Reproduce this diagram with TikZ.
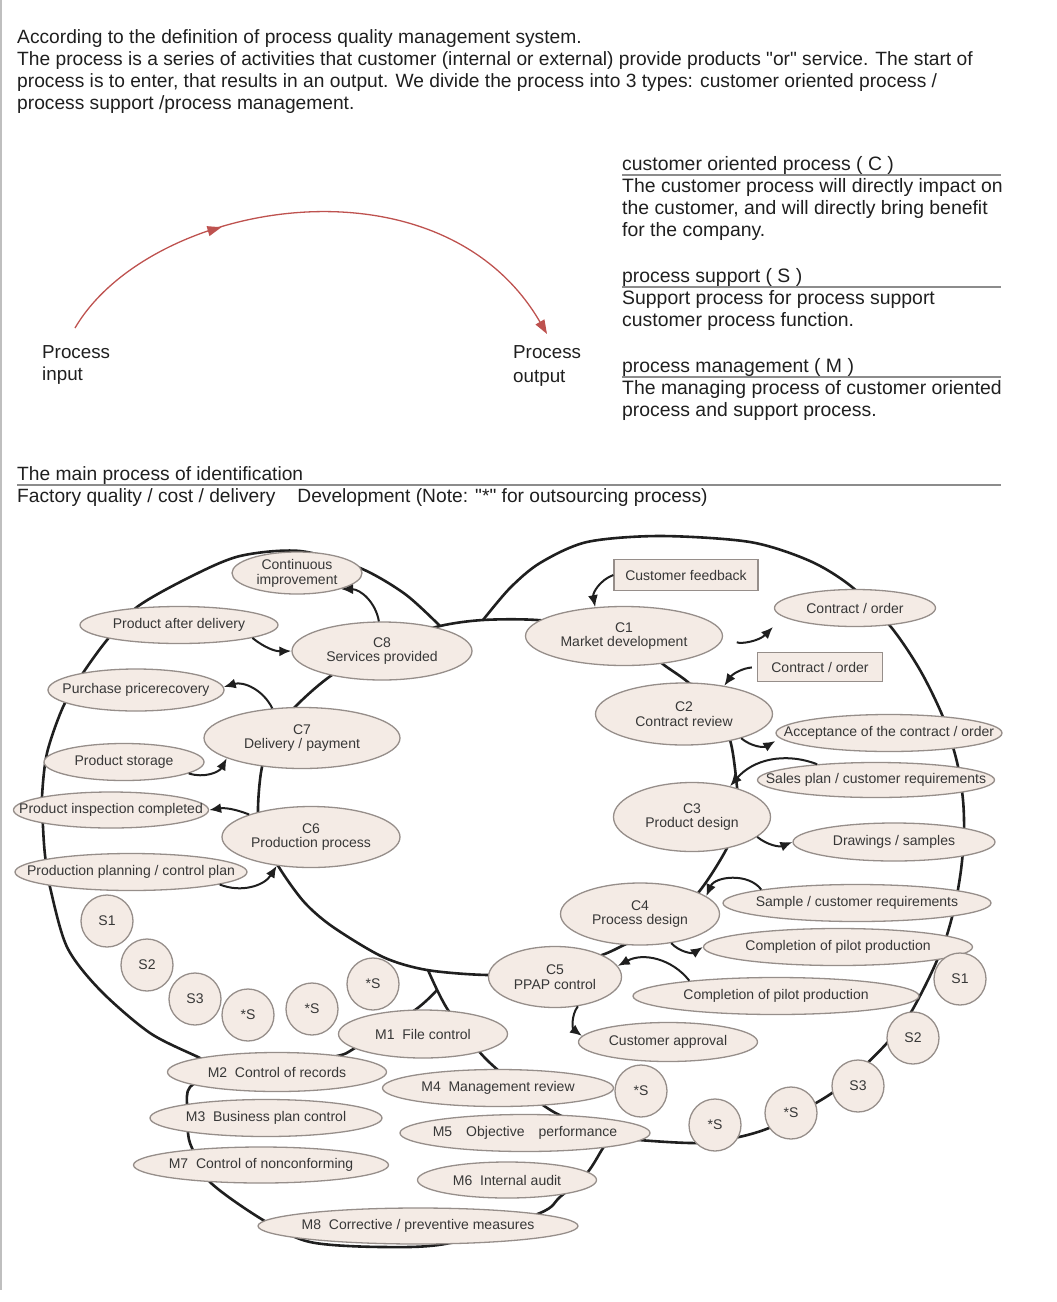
\documentclass[tikz,border=0pt]{standalone}
\usepackage{fontspec}
\setmainfont{Liberation Sans}
\usetikzlibrary{arrows.meta, shapes.geometric, decorations.markings}
\definecolor{shade}{RGB}{244,235,229}
\definecolor{rim}{RGB}{150,142,138}
\definecolor{ink}{RGB}{55,55,55}
\definecolor{arcred}{RGB}{178,52,48}
% zero-width line, so the ellipse keeps its own size
\newcommand{\zw}[1]{\makebox[0pt]{#1}}

\begin{document}
\begin{tikzpicture}[x=1pt, y=-1pt,
    proc/.style={ellipse, draw=rim, fill=shade, line width=1.3pt, inner sep=0pt,
        text=ink, align=center, font=\fontsize{14}{14.5}\selectfont},
    esz/.style 2 args={minimum width=#1pt, minimum height=#2pt},
    srv/.style={circle, draw=rim, fill=shade, line width=1.3pt, minimum size=52pt,
        inner sep=0pt, text=ink, font=\fontsize{14}{14.5}\selectfont},
    inbox/.style={rectangle, draw=rim, fill=shade, line width=1.3pt, inner sep=0pt,
        text=ink, font=\fontsize{14}{14.5}\selectfont},
    loopl/.style={line width=2.6pt, black!88, line cap=round, line join=round},
    flow/.style={line width=2pt, black!88, -{Latex[length=12pt, width=10pt]}, bend right=40},
    rulec/.style={draw=black!45, line width=1.5pt},
    body/.style={inner sep=0pt, anchor=base west, align=left, text=black!88},
    arcline/.style={draw=arcred!85, line width=1.3pt, -{Triangle[length=14pt, width=10pt]},
        postaction={decorate, decoration={markings,
            mark=at position 0.33 with {\arrow{Triangle[length=14pt, width=10pt]}}}}}]
\useasboundingbox (0,0) rectangle (1057,1302);
\draw[black!25, line width=1.5pt] (1,0) -- (1,1290);

% introduction (base of a multi-line node = last line)
\node[body, font=\fontsize{19.2}{21.7}\selectfont] (intro) at (17,109)
    {According to the definition of process quality management system.\\
     The process is a series of activities that customer (internal or external) provide products \textquotedbl or\textquotedbl\ service. The start of\\
     process is to enter, that results in an output. We divide the process into 3 types: customer oriented process /\\
     process support /process management.};

% process input / output
\node[body, font=\fontsize{18.8}{22}\selectfont] (pin) at (42,380) {Process\\input};
\node[body, font=\fontsize{18.8}{24}\selectfont] (pout) at (513,382) {Process\\output};
\coordinate (arcs) at (75,328);
\coordinate (arce) at (547,334);
\draw[arcline] (arcs) .. controls (150,200) and (440,150) .. (arce);

% the three kinds of process
\node[body, font=\fontsize{19.4}{22}\selectfont] (dch) at (622,170) {customer oriented process ( C )};
\draw[rulec] (622,175) -- (1001,175);
\node[body, font=\fontsize{19.4}{22}\selectfont] (dcb) at (622,236)
    {The customer process will directly impact on\\the customer, and will directly bring benefit\\for the company.};
\node[body, font=\fontsize{19.4}{22}\selectfont] (dsh) at (622,282) {process support ( S )};
\draw[rulec] (622,287) -- (1001,287);
\node[body, font=\fontsize{19.4}{22}\selectfont] (dsb) at (622,326)
    {Support process for process support\\customer process function.};
\node[body, font=\fontsize{19.4}{22}\selectfont] (dmh) at (622,372) {process management ( M )};
\draw[rulec] (622,377) -- (1001,377);
\node[body, font=\fontsize{19.4}{22}\selectfont] (dmb) at (622,416)
    {The managing process of customer oriented\\process and support process.};

% main process heading
\node[body, font=\fontsize{19.2}{22}\selectfont] (mph) at (17,480) {The main process of identification};
\draw[rulec] (17,485) -- (1001,485);
\node[body, font=\fontsize{19.2}{22}\selectfont] (mpn) at (17,502)
    {Factory quality / cost / delivery\hspace{22pt}Development (Note: \textquotedbl*\textquotedbl\ for outsourcing process)};

% loops
\draw[loopl] plot[smooth cycle, tension=0.5] coordinates {(440,626) (483,620) (537,620)
    (600,628) (645,650) (664,665) (689,683) (712,708) (730,740) (737,787) (738,815)
    (727,848) (698,893) (660,928) (624,945) (602,955) (550,972) (488,975) (427,970)
    (383,957) (333,927) (305,903) (282,872) (264,840) (258,813) (262,767) (276,733)
    (295,707) (332,675) (390,642)};
\draw[loopl] plot[smooth, tension=0.5] coordinates {(440,626) (405,594) (360,568)
    (300,551) (240,556) (190,577) (137,607) (107,640) (83,673) (63,707) (47,753)
    (42,797) (43,827) (45,855) (50,887) (67,947) (100,990) (150,1033) (200,1058) (220,1069)};
\draw[loopl] plot[smooth, tension=0.5] coordinates {(220,1069) (190,1087) (187,1107)
    (188,1133) (192,1148) (210,1182) (263,1220) (310,1242) (383,1247) (450,1243)
    (540,1213) (560,1197) (587,1173) (603,1148) (612,1136)};
\draw[loopl] plot[smooth, tension=0.5] coordinates {(483,620) (510,588) (540,563)
    (587,542) (660,536) (750,542) (810,561) (852,587) (891,627) (920,670) (943,717)
    (957,762) (963,800) (964,835) (961,870) (955,905) (946,938) (935,965) (923,990)
    (908,1017) (887,1043) (862,1068) (832,1093) (800,1112) (769,1128) (739,1137)
    (698,1143) (639,1140) (612,1136)};
\draw[loopl] plot[smooth, tension=0.5] coordinates {(612,1136) (552,1111) (488,1061)
    (448,1010) (428,970)};
\draw[loopl] plot[smooth, tension=0.5] coordinates {(437,990) (415,1010) (355,1048)
    (337,1056) (280,1066) (220,1069)};

% customer oriented processes, left half
\node[proc, esz={130}{42}, font=\fontsize{14}{15}\selectfont] (ci) at (297,573) {\zw{Continuous}\\\zw{improvement}};
\node[proc, esz={198}{37}] (pad) at (179,625) {\zw{Product after delivery}};
\node[proc, esz={180}{58}] (c8) at (382,651) {\zw{C8}\\\zw{Services provided}};
\node[proc, esz={176}{42}] (pur) at (136,690) {\zw{Purchase pricerecovery}};
\node[proc, esz={196}{61}] (c7) at (302,738) {\zw{C7}\\\zw{Delivery / payment}};
\node[proc, esz={160}{37}] (pst) at (124,762) {\zw{Product storage}};
\node[proc, esz={195}{36}] (pic) at (111,810) {\zw{Product inspection completed}};
\node[proc, esz={178}{61}] (c6) at (311,837) {\zw{C6}\\\zw{Production process}};
\node[proc, esz={232}{37}] (ppc) at (131,872) {\zw{Production planning / control plan}};

% customer oriented processes, right half
\node[inbox, minimum width=144pt, minimum height=31pt] (cfb) at (686,575) {Customer feedback};
\node[proc, esz={197}{59}] (c1) at (624,636) {\zw{C1}\\\zw{Market development}};
\node[proc, esz={161}{37}] (coe) at (855,608) {\zw{Contract / order}};
\node[inbox, minimum width=125pt, minimum height=29pt] (cor) at (820,667) {Contract / order};
\node[proc, esz={177}{62}] (c2) at (684,714) {\zw{C2}\\\zw{Contract review}};
\node[proc, esz={226}{37}] (acc) at (889,733) {\zw{Acceptance of the contract / order}};
\node[proc, esz={237}{35}] (spl) at (876,780) {\zw{Sales plan / customer requirements}};
\node[proc, esz={157}{69}] (c3) at (692,817) {\zw{C3}\\\zw{Product design}};
\node[proc, esz={202}{38}] (drw) at (894,842) {\zw{Drawings / samples}};
\node[proc, esz={159}{62}] (c4) at (640,914) {\zw{C4}\\\zw{Process design}};
\node[proc, esz={268}{37}] (smp) at (857,903) {\zw{Sample / customer requirements}};
\node[proc, esz={269}{37}] (cpu) at (838,947) {\zw{Completion of pilot production}};
\node[proc, esz={286}{37}] (cpl) at (776,996) {\zw{Completion of pilot production}};
\node[proc, esz={133}{61}] (c5) at (555,977) {\zw{C5}\\\zw{PPAP control}};
\node[proc, esz={179}{39}] (ca) at (668,1042) {\zw{Customer approval}};

% management processes
\node[proc, esz={219}{39}] (m2) at (277,1072) {\zw{M2~ Control of records}};
\node[proc, esz={169}{48}] (m1) at (423,1034) {\zw{M1~ File control}};
\node[proc, esz={232}{37}] (m3) at (266,1118) {\zw{M3~ Business plan control}};
\node[proc, esz={255}{36}] (m7) at (261,1165) {\zw{M7~ Control of nonconforming}};
\node[proc, esz={231}{37}] (m4) at (498,1088) {\zw{M4~ Management review}};
\node[proc, esz={250}{37}] (m5) at (525,1133) {\zw{M5\quad Objective\quad performance}};
\node[proc, esz={179}{36}] (m6) at (507,1180) {\zw{M6~ Internal audit}};
\node[proc, esz={320}{36}] (m8) at (418,1226) {\zw{M8~ Corrective / preventive measures}};

% support processes
\node[srv] (sl1) at (107,921) {S1};
\node[srv] (sl2) at (147,965) {S2};
\node[srv] (sl3) at (195,999) {S3};
\node[srv] (sl4) at (248,1015) {*S};
\node[srv] (sl5) at (312,1009) {*S};
\node[srv] (sl6) at (373,984) {*S};
\node[srv] (sr1) at (960,979) {S1};
\node[srv] (sr2) at (913,1038) {S2};
\node[srv] (sr3) at (858,1086) {S3};
\node[srv] (sr4) at (791,1113) {*S};
\node[srv] (sr5) at (715,1125) {*S};
\node[srv] (sr6) at (641,1091) {*S};

% inputs and outputs
\coordinate (coin) at (773,627);
\draw[flow] (c8.96) to (ci.-20);
\draw[flow, bend right=20] (pad.-10) to (c8.180);
\draw[flow] (c7.135) to (pur.2);
\draw[flow] (pst.-10) to (c7.195);
\draw[flow, bend right=15] (c6.160) to (pic.0);
\draw[flow] (ppc.-8) to (c6.220);
\draw[flow] (cfb.west) to (c1.135);
\draw[flow, bend right=35, shorten <=15pt] (c1.east) to (coin);
\draw[flow, bend right=25, shorten <=5pt] (cor.west) to (c2.35);
\draw[flow, bend right=35] (c2.-23) to ([yshift=-8pt]acc.west);
\draw[flow, bend right=35] (spl.165) to (c3.39);
\draw[flow, bend right=30] (c3.-17) to (drw.west);
\draw[flow, bend right=60] (smp.172) to (c4.15);
\draw[flow] (c4.-43) to (cpu.west);
\draw[flow] (cpl.170) to (c5.10);
\draw[flow, bend right=45] (c5.-52) to (ca.176);
\end{tikzpicture}
\end{document}
